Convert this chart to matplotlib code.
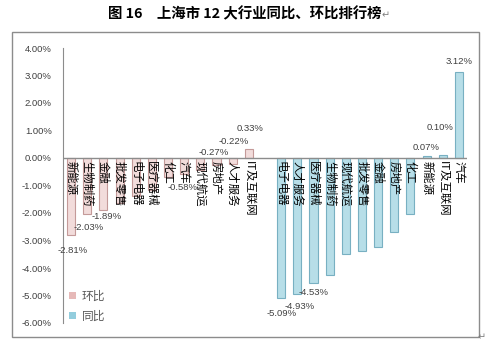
import matplotlib
matplotlib.use("Agg")
import matplotlib.pyplot as plt
from matplotlib.patches import Rectangle, Patch

plt.rcParams['font.family'] = ['Noto Sans CJK SC', 'DejaVu Sans']

# ---------------- data ----------------
hb_cats = ["新能源", "生物制药", "金融", "批发零售", "电子电器", "医疗器械",
           "化工", "汽车", "现代航运", "房地产", "人才服务", "IT及互联网"]
hb_vals = [-2.81, -2.03, -1.89, -1.62, -1.40, -1.18, -0.70, -0.58, -0.42, -0.27, -0.22, 0.33]
tb_cats = ["电子电器", "人才服务", "医疗器械", "生物制药", "现代航运", "批发零售",
           "金融", "房地产", "化工", "新能源", "IT及互联网", "汽车"]
tb_vals = [-5.09, -4.93, -4.53, -4.25, -3.49, -3.38, -3.24, -2.69, -2.04, 0.07, 0.10, 3.12]
yticks = [4, 3, 2, 1, 0, -1, -2, -3, -4, -5, -6]
title = "图 16　上海市 12 大行业同比、环比排行榜"
series_names = ["环比", "同比"]

# which value labels are visible, with their offsets (points)
hb_label_idx = [0, 1, 2, 7, 9, 10, 11]
hb_label_off = [(1, -11), (1, -10), (2, -5), (-1, -10), (-2, 9), (1, 16.5), (1, 15)]
tb_label_idx = [0, 1, 2, 9, 10, 11]
tb_label_off = [(0, -11), (2, -9), (0, -7), (0, 6.5), (-2, 20), (0, 7.5)]

W, H = 487, 343
fig = plt.figure(figsize=(W / 100, H / 100), dpi=100)

# outer frame
fig.patches.append(Rectangle((12 / W, 1 - 337 / H), (479 - 12) / W, (337 - 32) / H,
                             transform=fig.transFigure, fill=False,
                             edgecolor="#8c8c8c", linewidth=1.0))
fig.text(245 / W, 1 - 14 / H, title, ha="center", va="center",
         fontsize=10.4, fontweight="bold", color="black")
fig.text(382 / W, 1 - 15 / H, "↵", ha="left", va="center", fontsize=7,
         color="#808080", family=['DejaVu Sans'])
fig.text(478 / W, 1 - 337 / H, "↵", ha="left", va="center", fontsize=7,
         color="#808080", family=['DejaVu Sans'])

left, right, top, bottom = 63, 467, 48, 323
ax = fig.add_axes([left / W, 1 - bottom / H, (right - left) / W, (bottom - top) / H])

hb_x = list(range(len(hb_vals)))
tb_x = [len(hb_vals) + 1 + i for i in range(len(tb_vals))]

pink_face, pink_edge = "#f2dcdb", "#c49a99"
blue_face, blue_edge = "#b7dee8", "#78b0c2"
ax.bar(hb_x, hb_vals, width=0.5, color=pink_face, edgecolor=pink_edge, linewidth=0.8, zorder=2)
ax.bar(tb_x, tb_vals, width=0.5, color=blue_face, edgecolor=blue_edge, linewidth=0.8, zorder=2)

ax.set_xlim(-0.5, len(hb_vals) + len(tb_vals) + 0.5)
ax.set_ylim(-6, 4)
ax.set_yticks(yticks)
ax.set_yticklabels([f"{v:.2f}%" for v in yticks], family=['Liberation Sans'],
                   fontsize=6.8, color="#404040")
ax.tick_params(axis='y', length=0, pad=8)
ax.set_xticks([])

for s in ["top", "right", "bottom"]:
    ax.spines[s].set_visible(False)
ax.spines["left"].set_color("#8c8c8c")
ax.axhline(0, color="#8c8c8c", linewidth=1.0, zorder=3)

# category labels
for x, c in zip(hb_x + tb_x, hb_cats + tb_cats):
    ax.annotate(c, (x, 0), xytext=(0, -2), textcoords="offset points",
                rotation=-90, ha="center", va="top", fontsize=8.2,
                color="black", zorder=4)

# value labels
for i, off in zip(hb_label_idx, hb_label_off):
    ax.annotate(f"{hb_vals[i]:.2f}%", (hb_x[i], hb_vals[i]), xytext=off,
                textcoords="offset points", ha="center", va="center",
                fontsize=6.8, color="#404040", family=['Liberation Sans'], zorder=5)
for i, off in zip(tb_label_idx, tb_label_off):
    ax.annotate(f"{tb_vals[i]:.2f}%", (tb_x[i], tb_vals[i]), xytext=off,
                textcoords="offset points", ha="center", va="center",
                fontsize=6.8, color="#404040", family=['Liberation Sans'], zorder=5)

handles = [Patch(facecolor="#e6b9b8", edgecolor="none"),
           Patch(facecolor="#93cddd", edgecolor="none")]
leg = fig.legend(handles, series_names, loc="upper left",
                 bbox_to_anchor=(58 / W, 1 - 279 / H), frameon=False,
                 handlelength=0.6, handleheight=0.6, handletextpad=0.5,
                 labelspacing=0.6, fontsize=8.5, labelcolor="#595959")

fig.savefig("out.png", dpi=100)
